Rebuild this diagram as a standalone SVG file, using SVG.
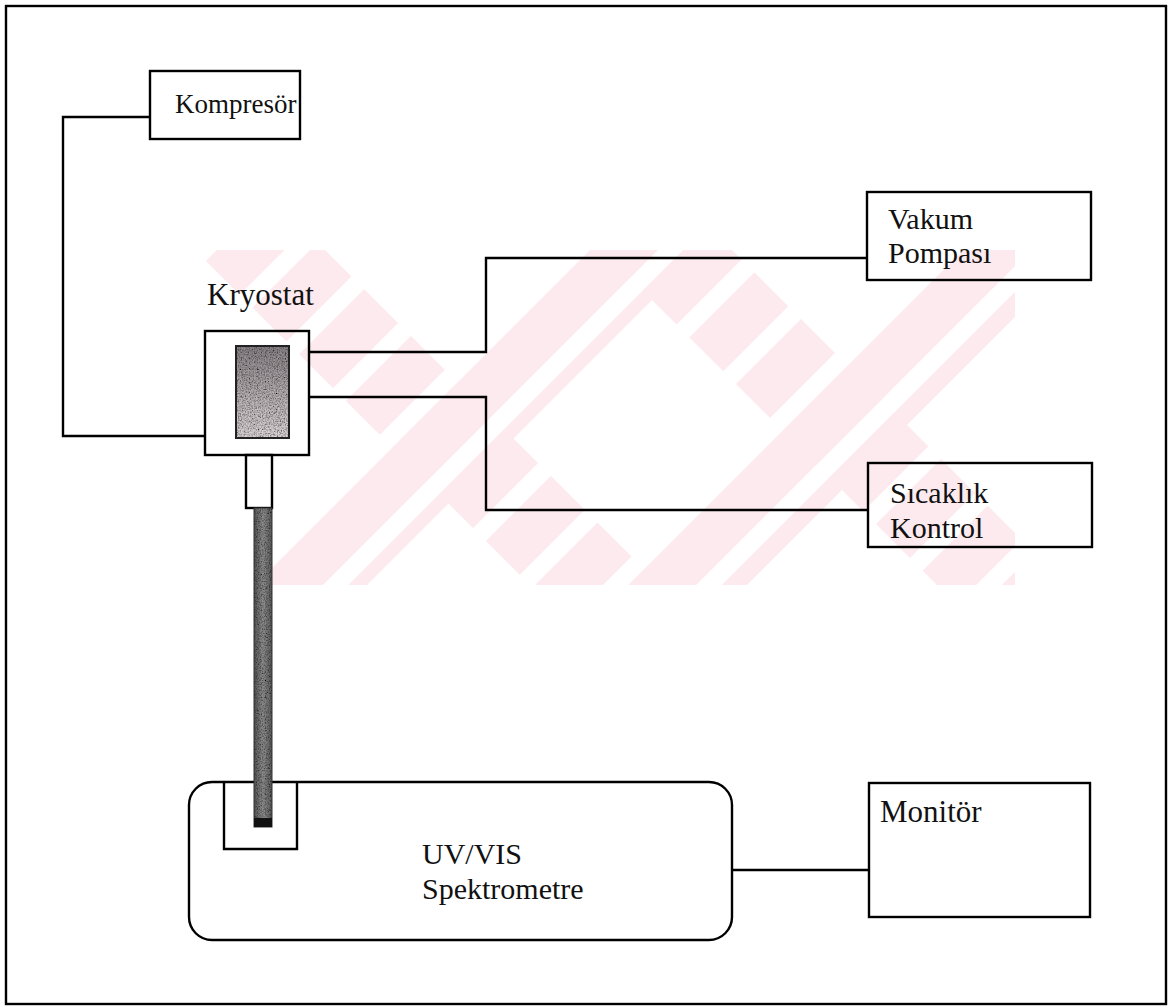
<svg xmlns="http://www.w3.org/2000/svg" width="1171" height="1007" viewBox="0 0 1171 1007">
  <style>
    .box { fill: none; stroke: #000; stroke-width: 2.4; }
    .wire { fill: none; stroke: #000; stroke-width: 2.4; stroke-linejoin: miter; }
    .lbl { font-family: "Liberation Serif", "Times New Roman", serif; font-size: 30px; fill: #111; }
  </style>
  <defs>
    <pattern id="wmStripes" patternUnits="userSpaceOnUse" width="66" height="66" patternTransform="rotate(45)">
      <rect x="0" y="0" width="48" height="66" fill="#fdeaee"/>
    </pattern>
    <clipPath id="wmClip">
      <rect x="185" y="250" width="830" height="335"/>
    </clipPath>
    <linearGradient id="coreGrad" x1="0" y1="0" x2="0" y2="1">
      <stop offset="0" stop-color="#8a8286"/>
      <stop offset="0.6" stop-color="#bdb5b8"/>
      <stop offset="1" stop-color="#ddd5d8"/>
    </linearGradient>
    <linearGradient id="rodGrad" x1="0" y1="0" x2="1" y2="0">
      <stop offset="0" stop-color="#555"/>
      <stop offset="0.5" stop-color="#8f8f8f"/>
      <stop offset="1" stop-color="#5a5a5a"/>
    </linearGradient>
    <filter id="speckle" x="0" y="0" width="100%" height="100%">
      <feTurbulence type="fractalNoise" baseFrequency="0.75" numOctaves="2" seed="7" result="n"/>
      <feColorMatrix in="n" type="saturate" values="0" result="g"/>
      <feComponentTransfer in="g" result="c">
        <feFuncR type="linear" slope="2.6" intercept="-0.55"/>
        <feFuncG type="linear" slope="2.6" intercept="-0.55"/>
        <feFuncB type="linear" slope="2.6" intercept="-0.55"/>
        <feFuncA type="table" tableValues="1 1"/>
      </feComponentTransfer>
      <feBlend in="SourceGraphic" in2="c" mode="multiply" result="b"/>
      <feComposite in="b" in2="SourceGraphic" operator="in"/>
    </filter>
  </defs>

  <rect x="0" y="0" width="1171" height="1007" fill="#fff"/>

  <!-- watermark -->
  <g id="watermark" clip-path="url(#wmClip)" fill="url(#wmStripes)">
    <polygon points="195,250 325,250 660,585 530,585"/>
    <polygon points="572,250 702,250 367,585 237,585"/>
    <polygon points="952,250 1082,250 747,585 617,585"/>
    <polygon points="602,250 732,250 1067,585 937,585"/>
  </g>

  <!-- outer frame -->
  <rect id="frame" class="box" x="6" y="6" width="1160" height="998"/>

  <!-- connectors -->
  <g id="connectors">
    <polyline class="wire" points="150,117 63,117 63,436 205,436"/>
    <polyline class="wire" points="309,352 486,352 486,258 867,258"/>
    <polyline class="wire" points="309,397 486,397 486,510 868,510"/>
    <line class="wire" x1="732" y1="870" x2="869" y2="870"/>
  </g>

  <g id="kompresor">
    <rect class="box" x="150" y="71" width="150" height="68"/>
    <text class="lbl" x="175" y="113" style="font-size:27px">Kompresör</text>
  </g>

  <g id="vakum-pompasi">
    <rect class="box" x="867" y="192" width="224" height="88"/>
    <text class="lbl" x="888" y="229">Vakum</text>
    <text class="lbl" x="888" y="263">Pompası</text>
  </g>

  <g id="sicaklik-kontrol">
    <rect class="box" x="868" y="463" width="224" height="84"/>
    <text class="lbl" x="890" y="503">Sıcaklık</text>
    <text class="lbl" x="890" y="538">Kontrol</text>
  </g>

  <g id="kryostat">
    <text class="lbl" x="207" y="305" style="font-size:31px">Kryostat</text>
    <rect class="box" x="205" y="331" width="104" height="124" fill="#fff"/>
    <rect class="box" x="246" y="455" width="26" height="53" fill="#fff"/>
    <rect x="236" y="346" width="53" height="92" fill="url(#coreGrad)" filter="url(#speckle)"/>
    <rect x="236" y="346" width="53" height="92" fill="none" stroke="#222" stroke-width="2"/>
  </g>

  <g id="uv-vis-spektrometre">
    <rect class="box" x="189" y="782" width="543" height="158" rx="23" ry="23" fill="#fff"/>
    <polyline class="wire" points="224,782 224,849 297,849 297,782"/>
    <text class="lbl" x="422" y="864">UV/VIS</text>
    <text class="lbl" x="422" y="899">Spektrometre</text>
  </g>

  <g id="fiber-rod">
    <rect x="254" y="508" width="18" height="319" fill="url(#rodGrad)" filter="url(#speckle)"/>
    <rect x="254" y="508" width="18" height="319" fill="none" stroke="#333" stroke-width="1"/>
    <rect x="254" y="818" width="18" height="9" fill="#111"/>
  </g>

  <g id="monitor">
    <rect class="box" x="869" y="783" width="221" height="134"/>
    <text class="lbl" x="880" y="822" style="font-size:31px">Monitör</text>
  </g>
</svg>
